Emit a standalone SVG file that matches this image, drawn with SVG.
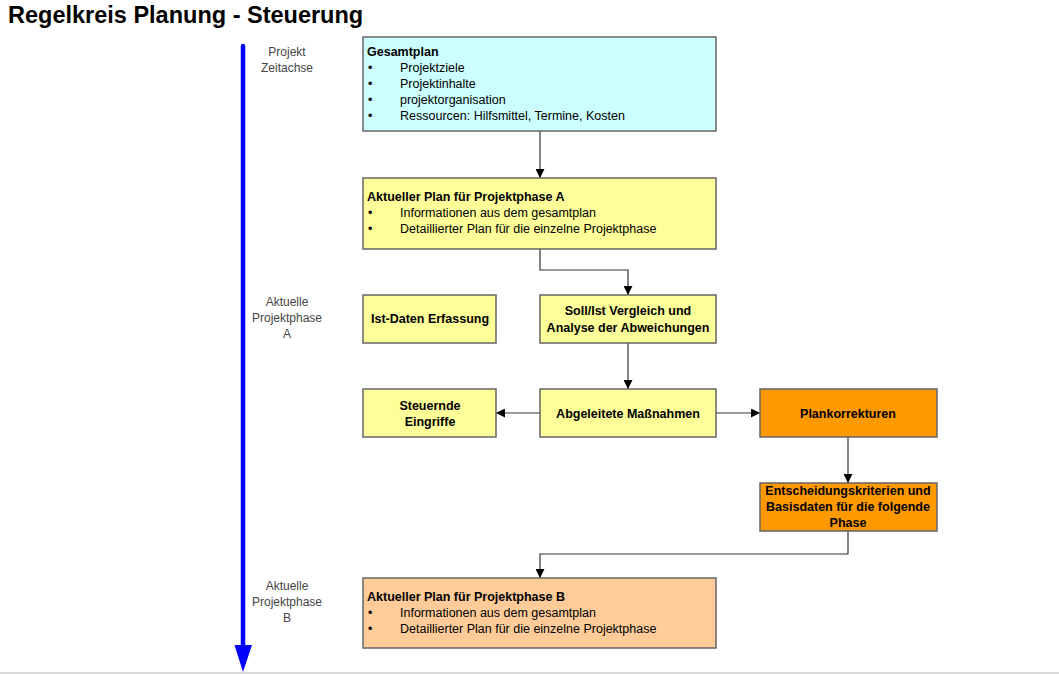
<svg xmlns="http://www.w3.org/2000/svg" width="1059" height="674" viewBox="0 0 1059 674">
<defs>
<marker id="ah" viewBox="0 0 10 10" refX="10" refY="5" markerWidth="9" markerHeight="9" markerUnits="userSpaceOnUse" orient="auto">
<path d="M0,0 L10,5 L0,10 Z" fill="#000"/>
</marker>
</defs>
<style>
text{font-family:"Liberation Sans",Arial,sans-serif;font-size:12.5px;fill:#000}
.t{font-size:23.5px;font-weight:bold}
.b{font-weight:bold}
.c{text-anchor:middle}
.side{fill:#444;text-anchor:middle;font-size:12px}
.box{stroke:#666;stroke-width:1.5}
.con{fill:none;stroke:#333;stroke-width:1.2;marker-end:url(#ah)}
</style>
<rect width="1059" height="674" fill="#fff"/>
<line x1="0" y1="673" x2="1059" y2="673" stroke="#ccc" stroke-width="1.5"/>
<text class="t" x="8" y="23">Regelkreis Planung - Steuerung</text>
<g id="axis">
<line x1="243" y1="46" x2="243" y2="648" stroke="#0000ff" stroke-width="4.5" stroke-linecap="round"/>
<path d="M234.5,645 L252,645 L243,672 Z" fill="#0000ff"/>
<text class="side" x="287" y="56">Projekt</text>
<text class="side" x="287" y="72">Zeitachse</text>
<text class="side" x="287" y="306">Aktuelle</text>
<text class="side" x="287" y="322">Projektphase</text>
<text class="side" x="287" y="338">A</text>
<text class="side" x="287" y="590">Aktuelle</text>
<text class="side" x="287" y="606">Projektphase</text>
<text class="side" x="287" y="622">B</text>
</g>
<g id="connectors">
<path class="con" d="M540,131 V178"/>
<path class="con" d="M540,249 V270 H628 V295"/>
<path class="con" d="M628,343 V389"/>
<path class="con" d="M540,413 H496"/>
<path class="con" d="M716,413 H760"/>
<path class="con" d="M848,437 V483"/>
<path class="con" d="M848,531 V554 H540 V578"/>
</g>
<g id="gesamtplan">
<rect class="box" x="363" y="37" width="353" height="94" fill="#ccffff"/>
<text class="b" x="367" y="56">Gesamtplan</text>
<text x="368" y="72">•</text><text x="400" y="72">Projektziele</text>
<text x="368" y="88">•</text><text x="400" y="88">Projektinhalte</text>
<text x="368" y="104">•</text><text x="400" y="104">projektorganisation</text>
<text x="368" y="120">•</text><text x="400" y="120">Ressourcen: Hilfsmittel, Termine, Kosten</text>
</g>
<g id="planA">
<rect class="box" x="363" y="178" width="353" height="71" fill="#ffff99"/>
<text class="b" x="367" y="201">Aktueller Plan für Projektphase A</text>
<text x="368" y="217">•</text><text x="400" y="217">Informationen aus dem gesamtplan</text>
<text x="368" y="233">•</text><text x="400" y="233">Detaillierter Plan für die einzelne Projektphase</text>
</g>
<g id="istdaten">
<rect class="box" x="363" y="295" width="133" height="48" fill="#ffff99"/>
<text class="b c" x="430" y="323">Ist-Daten Erfassung</text>
</g>
<g id="sollist">
<rect class="box" x="540" y="295" width="176" height="48" fill="#ffff99"/>
<text class="b c" x="628" y="315">Soll/Ist Vergleich und</text>
<text class="b c" x="628" y="332">Analyse der Abweichungen</text>
</g>
<g id="steuernde">
<rect class="box" x="363" y="389" width="133" height="48" fill="#ffff99"/>
<text class="b c" x="430" y="410">Steuernde</text>
<text class="b c" x="430" y="426">Eingriffe</text>
</g>
<g id="abgeleitete">
<rect class="box" x="540" y="389" width="176" height="48" fill="#ffff99"/>
<text class="b c" x="628" y="418">Abgeleitete Maßnahmen</text>
</g>
<g id="plankorrekturen">
<rect class="box" x="760" y="389" width="177" height="48" fill="#ff9900"/>
<text class="b c" x="848" y="418">Plankorrekturen</text>
</g>
<g id="entscheidung">
<rect class="box" x="760" y="483" width="177" height="48" fill="#ff9900"/>
<text class="b c" x="848" y="495">Entscheidungskriterien und</text>
<text class="b c" x="848" y="511">Basisdaten für die folgende</text>
<text class="b c" x="848" y="527">Phase</text>
</g>
<g id="planB">
<rect class="box" x="363" y="578" width="353" height="70" fill="#ffcc99"/>
<text class="b" x="367" y="601">Aktueller Plan für Projektphase B</text>
<text x="368" y="617">•</text><text x="400" y="617">Informationen aus dem gesamtplan</text>
<text x="368" y="633">•</text><text x="400" y="633">Detaillierter Plan für die einzelne Projektphase</text>
</g>
</svg>
